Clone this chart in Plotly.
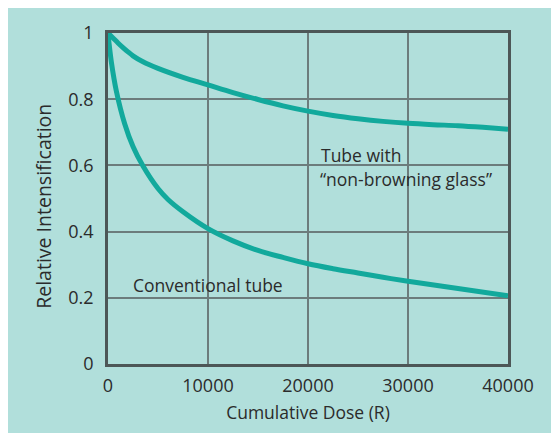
import plotly.graph_objects as go

# Data
dose_upper = [0, 500, 1000, 1500, 2000, 2500, 3500, 5000, 7500, 10000, 12500, 15000,
              17500, 20000, 22500, 25000, 27500, 30000, 32500, 35000, 37500, 40000]
intens_upper = [1.0, 0.985, 0.97, 0.956, 0.943, 0.931, 0.913, 0.893, 0.866, 0.843, 0.82,
                0.799, 0.78, 0.764, 0.751, 0.741, 0.733, 0.727, 0.723, 0.72, 0.715, 0.709]

dose_conv = [0, 100, 333, 833, 1667, 2500, 3500, 5000, 6000, 7500, 10000, 12500, 15000,
             17500, 20000, 22500, 25000, 27500, 30000, 35000, 40000]
intens_conv = [1.0, 0.97, 0.913, 0.825, 0.726, 0.657, 0.598, 0.53, 0.497, 0.46, 0.409, 0.372,
               0.343, 0.322, 0.303, 0.288, 0.275, 0.262, 0.25, 0.228, 0.206]

x_ticks = [0, 10000, 20000, 30000, 40000]
y_ticks = [0, 0.2, 0.4, 0.6, 0.8, 1]
y_tick_labels = ["0", "0.2", "0.4", "0.6", "0.8", "1"]

BG = "#b1dfdb"
LINE = "#12a99c"
TXT = "#2b2b2b"
FONT = "Open Sans"

fig = go.Figure()
fig.add_trace(go.Scatter(x=dose_upper, y=intens_upper, mode="lines",
                         line=dict(color=LINE, width=5, shape="spline", smoothing=1.0),
                         showlegend=False))
fig.add_trace(go.Scatter(x=dose_conv, y=intens_conv, mode="lines",
                         line=dict(color=LINE, width=5, shape="spline", smoothing=1.0),
                         showlegend=False))

fig.add_annotation(x=21100, y=0.631, text="Tube with", showarrow=False,
                   xanchor="left", yanchor="middle", font=dict(family=FONT, size=17.5, color=TXT))
fig.add_annotation(x=21000, y=0.560, text="\u201cnon-browning glass\u201d", showarrow=False,
                   xanchor="left", yanchor="middle", font=dict(family=FONT, size=17.5, color=TXT))
fig.add_annotation(x=2300, y=0.239, text="Conventional tube", showarrow=False,
                   xanchor="left", yanchor="middle", font=dict(family=FONT, size=17.5, color=TXT))

# y-axis title (placed as in the reference, slightly below the plot centre)
fig.add_annotation(xref="paper", yref="paper", x=(44 - 108) / 400, y=(366 - 205) / 339,
                   text="Relative Intensification", textangle=-90, showarrow=False,
                   xanchor="center", yanchor="middle",
                   font=dict(family=FONT, size=19.5, color=TXT))

fig.update_layout(
    width=547, height=425,
    margin=dict(l=100, r=47, t=19, b=67),
    paper_bgcolor=BG, plot_bgcolor=BG,
    font=dict(family=FONT, size=18, color=TXT),
    xaxis=dict(range=[0, 40000], tickvals=x_ticks, ticktext=[str(v) for v in x_ticks],
               showgrid=True, gridcolor="#6c7c7c", gridwidth=1.5,
               showline=True, linecolor="#4d5757", linewidth=2.5, mirror=True,
               zeroline=False, ticks="", ticklabelstandoff=4,
               tickfont=dict(family=FONT, size=18, color=TXT),
               title=dict(text="Cumulative Dose (R)", standoff=11,
                          font=dict(family=FONT, size=17.5, color=TXT))),
    yaxis=dict(range=[0, 1], tickvals=y_ticks, ticktext=y_tick_labels,
               showgrid=True, gridcolor="#6c7c7c", gridwidth=1.5,
               showline=True, linecolor="#4d5757", linewidth=2.5, mirror=True,
               zeroline=False, ticks="", ticklabelstandoff=8,
               tickfont=dict(family=FONT, size=18, color=TXT)),
)

fig.write_html("out.html")
